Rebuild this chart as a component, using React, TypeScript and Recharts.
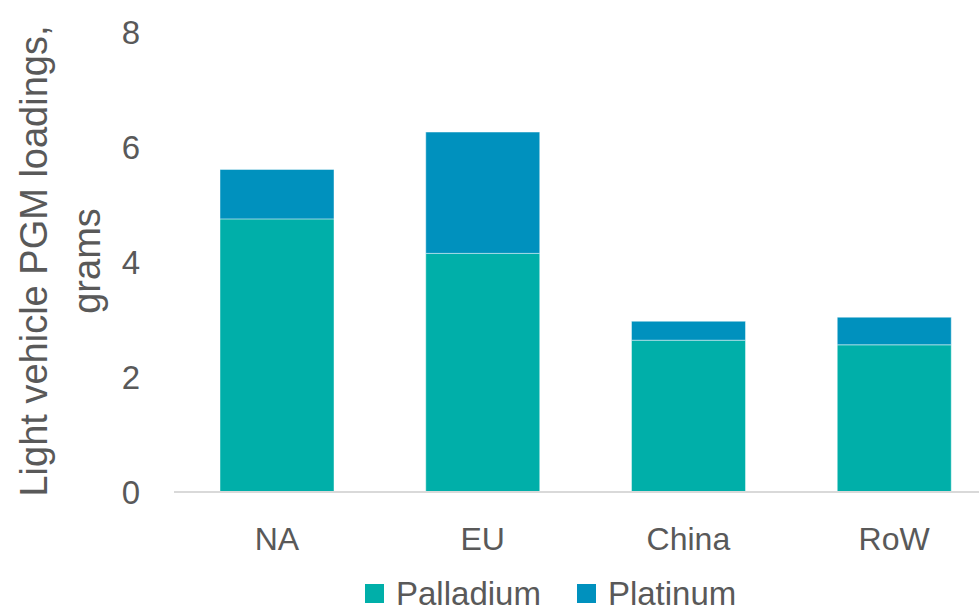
import React from "react";
import { BarChart, Bar, XAxis, YAxis, Legend } from "recharts";

const categories = ["NA", "EU", "China", "RoW"];
const palladium = [4.75, 4.15, 2.64, 2.56];
const platinum = [0.86, 2.11, 0.33, 0.48];
const yTicks = [0, 2, 4, 6, 8];
const seriesNames = ["Palladium", "Platinum"];
const colors = ["#00AFA9", "#0091BE"];
const yTitle = ["Light vehicle PGM loadings,", "grams"];

const data = categories.map((c, i) => ({
  name: c,
  Palladium: palladium[i],
  Platinum: platinum[i],
}));

const FONT = "'Liberation Sans', Arial, sans-serif";
const TEXT = "#595959";

const YTitle = () => (
  <g>
    <text
      transform="translate(47,261) rotate(-90)"
      textAnchor="middle"
      fontFamily={FONT}
      fontSize={38}
      fill={TEXT}
    >
      {yTitle[0]}
    </text>
    <text
      transform="translate(100,261) rotate(-90)"
      textAnchor="middle"
      fontFamily={FONT}
      fontSize={38}
      fill={TEXT}
    >
      {yTitle[1]}
    </text>
  </g>
);

const LegendContent = () => (
  <div
    style={{
      height: 48,
      boxSizing: "border-box",
      paddingTop: 14,
      paddingLeft: 365,
      display: "flex",
      alignItems: "center",
      fontFamily: FONT,
      fontSize: 33,
      lineHeight: "33px",
      color: TEXT,
      whiteSpace: "nowrap",
    }}
  >
    {seriesNames.map((n, i) => (
      <div key={n} style={{ display: "flex", alignItems: "center", marginRight: 36 }}>
        <span style={{ width: 19, height: 19, background: colors[i], display: "inline-block", marginRight: 12 }} />
        <span>{n}</span>
      </div>
    ))}
  </div>
);

export default function App() {
  return (
    <div
      style={{
        position: "fixed",
        left: 0,
        top: 0,
        width: 979,
        height: 610,
        overflow: "hidden",
        background: "#fff",
      }}
    >
      <BarChart
        width={1000}
        height={610}
        data={data}
        margin={{ top: 32, right: 3, bottom: 0, left: 0 }}
        barSize={114}
      >
        <XAxis
          dataKey="name"
          height={70}
          tickLine={false}
          tickSize={0}
          tickMargin={35}
          axisLine={{ stroke: "#d9d9d9", strokeWidth: 2 }}
          tick={{ fontFamily: FONT, fontSize: 32, fill: TEXT }}
          interval={0}
        />
        <YAxis
          width={174}
          domain={[0, 8]}
          ticks={yTicks}
          axisLine={false}
          tickLine={false}
          tickSize={0}
          tickMargin={34}
          tick={{ fontFamily: FONT, fontSize: 33, fill: TEXT }}
          label={{ content: () => <YTitle /> }}
        />
        <Legend
          verticalAlign="bottom"
          align="left"
          height={48}
          content={() => <LegendContent />}
        />
        <Bar
          dataKey="Palladium"
          stackId="a"
          fill={colors[0]}
          stroke="#ffffff"
          strokeOpacity={0.45}
          strokeWidth={1}
          isAnimationActive={false}
        />
        <Bar
          dataKey="Platinum"
          stackId="a"
          fill={colors[1]}
          stroke="#ffffff"
          strokeOpacity={0.45}
          strokeWidth={1}
          isAnimationActive={false}
        />
      </BarChart>
    </div>
  );
}
